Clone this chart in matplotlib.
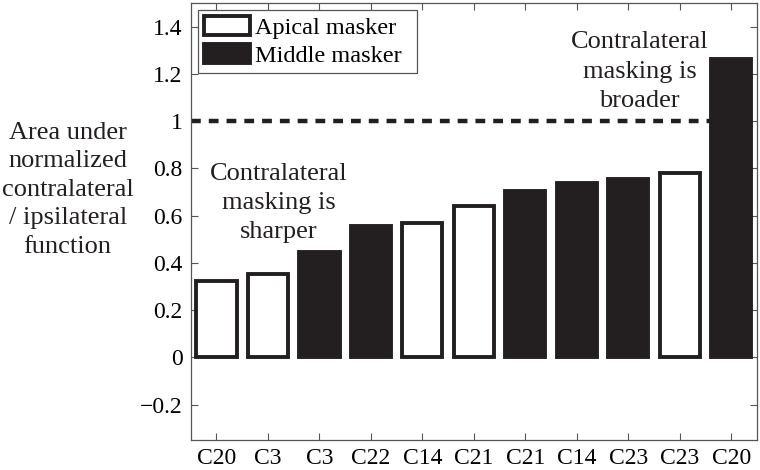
import matplotlib
matplotlib.use("Agg")
import matplotlib.pyplot as plt
from matplotlib.patches import Patch

plt.rcParams['font.family'] = ['Liberation Serif', 'DejaVu Serif']

labels = ["C20", "C3", "C3", "C22", "C14", "C21", "C21", "C14", "C23", "C23", "C20"]
values = [0.325, 0.351, 0.446, 0.555, 0.567, 0.642, 0.705, 0.74, 0.754, 0.779, 1.264]
masker = ["apical", "apical", "middle", "middle", "apical", "apical",
          "middle", "middle", "middle", "apical", "middle"]
yticks = [-0.2, 0, 0.2, 0.4, 0.6, 0.8, 1.0, 1.2, 1.4]
ytick_labels = ["\u22120.2", "0", "0.2", "0.4", "0.6", "0.8", "1", "1.2", "1.4"]

dark = "#231f20"

fig = plt.figure(figsize=(7.6, 4.7), dpi=100)
ax = fig.add_axes([0.251, 0.0638, 0.745, 0.9298])

x = list(range(1, len(values) + 1))
faces = ["white" if m == "apical" else dark for m in masker]
ax.bar(x, values, width=0.78, color=faces, edgecolor=dark, linewidth=2.8, zorder=3)

ax.axhline(1.0, color=dark, linewidth=3.2, dashes=(2.2, 1.8), zorder=2)

ax.set_xlim(0.5, 11.5)
ax.set_ylim(-0.35, 1.5)
ax.set_xticks(x)
ax.set_xticklabels(labels, fontsize=17)
ax.set_yticks(yticks)
ax.set_yticklabels(ytick_labels, fontsize=17)
ax.tick_params(direction="in", length=5, width=0.8, color="#555555",
               top=True, right=True, pad=6)
for s in ax.spines.values():
    s.set_color("#555555")
    s.set_linewidth(0.9)

ax.text(2.21, 0.652, "Contralateral\nmasking is\nsharper", ha="center", va="center",
        fontsize=19, linespacing=1.42, color=dark)
ax.text(9.22, 1.21, "Contralateral\nmasking is\nbroader", ha="center", va="center",
        fontsize=19, linespacing=1.42, color=dark)

fig.text(0.089, 0.596, "Area under\nnormalized\ncontralateral\n/ ipsilateral\nfunction",
         ha="center", va="center", fontsize=19, linespacing=1.38, color=dark)

handles = [Patch(facecolor="white", edgecolor=dark, linewidth=2.8, label="Apical masker"),
           Patch(facecolor=dark, edgecolor=dark, linewidth=2.8, label="Middle masker")]
leg = ax.legend(handles=handles, loc="upper left", fontsize=17.5, frameon=True,
                fancybox=False, framealpha=1, edgecolor="#555555",
                handlelength=1.9, handleheight=0.85, handletextpad=0.2,
                labelspacing=0.2, borderpad=0.25, borderaxespad=0.0,
                bbox_to_anchor=(0.013, 0.0, 0.387, 0.984), mode="expand")
leg.get_frame().set_linewidth(0.9)

fig.savefig("out.png", dpi=100)
